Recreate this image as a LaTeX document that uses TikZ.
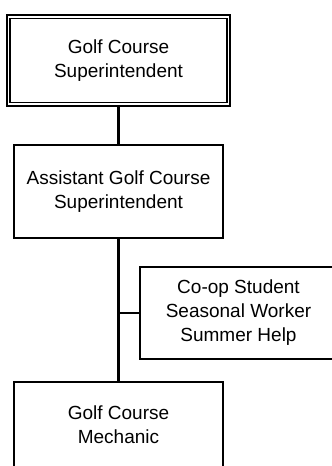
\documentclass[tikz,border=0pt]{standalone}
\usepackage{fontspec}
\setmainfont{Liberation Sans}
\usetikzlibrary{positioning, calc}

\begin{document}
\begin{tikzpicture}[x=1pt, y=1pt,
    role/.style={draw, line width=2.2pt, rectangle, align=center,
      font=\fontsize{19}{24}\selectfont, inner sep=0pt},
    headrole/.style={role, double, double distance=1.8pt, line width=1.8pt},
    link/.style={line width=2.6pt}]
        \useasboundingbox (0,0) rectangle (332,-466);
        \clip (0,0) rectangle (332,-466);

        % boxes
        \node[headrole, minimum width=220pt, minimum height=87.5pt] (super) at (118.5,-60.5) {Golf Course\\Superintendent};
        \node[role, minimum width=209pt, minimum height=93pt] (assist) at (118.5,-191.5) {Assistant Golf Course\\Superintendent};
        \node[role, minimum width=197pt, minimum height=92pt] (help) at (238.5,-313) {Co-op Student\\Seasonal Worker\\Summer Help};
        \node[role, minimum width=209pt, minimum height=86pt] (mech) at (118.5,-425) {Golf Course\\Mechanic};

        % lines
        \draw[link] (super) -- (assist);
        \draw[link] (assist) -- (mech);
        \draw[link] (help.west) -- (help.west -| assist.south);
      \end{tikzpicture}
\end{document}
